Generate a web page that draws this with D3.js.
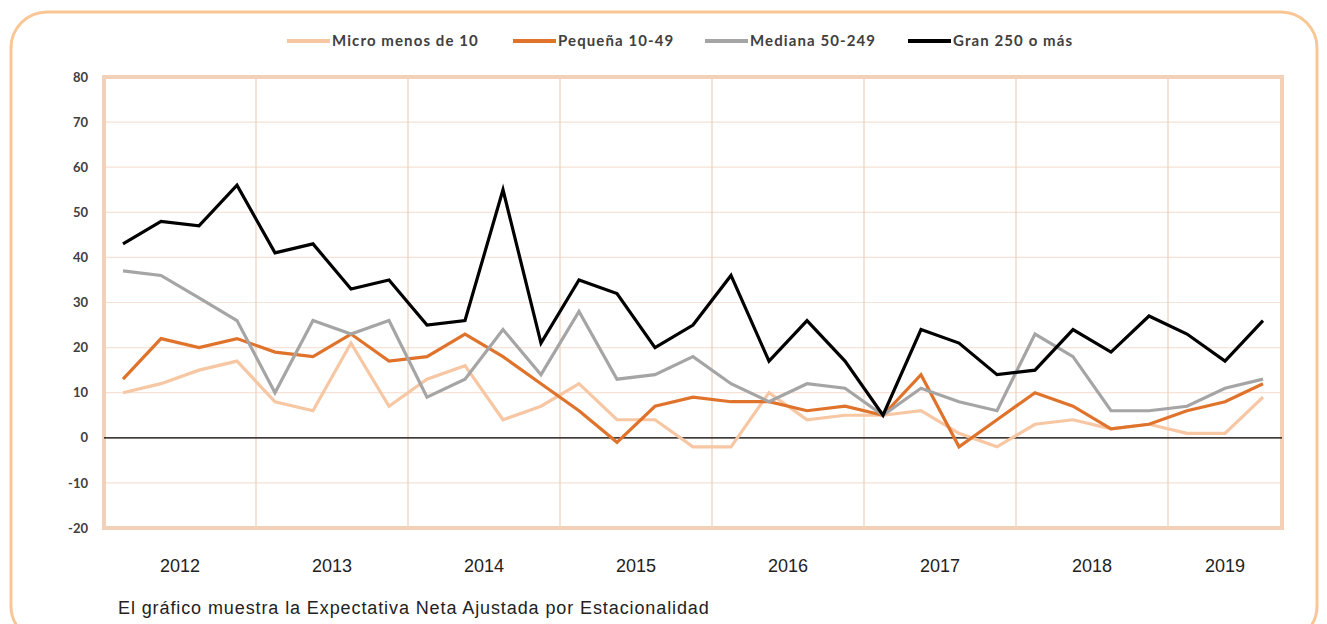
<!DOCTYPE html>
<html>
<head>
<meta charset="utf-8">
<script src="https://cdn.jsdelivr.net/npm/d3@7"></script>
<style>
  body { margin: 0; background: #fff; }
  svg { display: block; }
</style>
</head>
<body>
<div id="chart"></div>
<script>
// años y trimestres (2019 solo tiene 3)
const years = ["2012", "2013", "2014", "2015", "2016", "2017", "2018", "2019"];
const quartersPerYear = [4, 4, 4, 4, 4, 4, 4, 3];

const seriesNames = ["Micro menos de 10", "Pequeña 10-49", "Mediana 50-249", "Gran 250 o más"];

const micro   = [10, 12, 15, 17, 8, 6, 21, 7, 13, 16, 4, 7, 12, 4, 4, -2, -2, 10, 4, 5, 5, 6, 1, -2, 3, 4, 2, 3, 1, 1, 9];
const pequena = [13, 22, 20, 22, 19, 18, 23, 17, 18, 23, 18, 12, 6, -1, 7, 9, 8, 8, 6, 7, 5, 14, -2, 4, 10, 7, 2, 3, 6, 8, 12];
const mediana = [37, 36, 31, 26, 10, 26, 23, 26, 9, 13, 24, 14, 28, 13, 14, 18, 12, 8, 12, 11, 5, 11, 8, 6, 23, 18, 6, 6, 7, 11, 13];
const gran    = [43, 48, 47, 56, 41, 43, 33, 35, 25, 26, 55, 21, 35, 32, 20, 25, 36, 17, 26, 17, 5, 24, 21, 14, 15, 24, 19, 27, 23, 17, 26];

const yTicks = [-20, -10, 0, 10, 20, 30, 40, 50, 60, 70, 80];

const footnote = "El gráfico muestra la Expectativa Neta Ajustada por Estacionalidad";

const width = 1327, height = 624;
const margin = { top: 77, right: 45, bottom: 96, left: 104 };
const colors = ["#f7c6a3", "#e0732c", "#a5a5a5", "#000000"];

// categorias: una por trimestre
const categories = [];
years.forEach((yr, i) => {
  for (let q = 1; q <= quartersPerYear[i]; q++) categories.push(yr + "-T" + q);
});

const allSeries = [micro, pequena, mediana, gran].map((vals, i) => ({
  name: seriesNames[i],
  color: colors[i],
  values: vals.map((v, j) => ({ cat: categories[j], value: v }))
}));

const svg = d3.select("#chart")
  .append("svg")
  .attr("width", width)
  .attr("height", height);

// marco redondeado exterior
svg.append("rect")
  .attr("x", 11).attr("y", 12)
  .attr("width", 1306).attr("height", 630)
  .attr("rx", 36).attr("ry", 36)
  .attr("fill", "none")
  .attr("stroke", "#f9c795")
  .attr("stroke-width", 3);

const x = d3.scaleBand()
  .domain(categories)
  .range([margin.left, width - margin.right])
  .padding(0);

const y = d3.scaleLinear()
  .domain([-20, 80])
  .range([height - margin.bottom, margin.top]);

// rejilla horizontal
svg.append("g")
  .selectAll("line")
  .data(yTicks)
  .join("line")
  .attr("x1", margin.left).attr("x2", width - margin.right)
  .attr("y1", d => y(d)).attr("y2", d => y(d))
  .attr("stroke", "#f6e2d6")
  .attr("stroke-width", 1.2);

// separadores de año
const firstOfYear = [];
let idx = 0;
quartersPerYear.forEach(n => { firstOfYear.push(idx); idx += n; });

svg.append("g")
  .selectAll("line")
  .data(firstOfYear.slice(1))
  .join("line")
  .attr("x1", d => x(categories[d])).attr("x2", d => x(categories[d]))
  .attr("y1", y(80)).attr("y2", y(-20))
  .attr("stroke", "#edcfbb")
  .attr("stroke-width", 1.2);

// borde del area de trazado
svg.append("rect")
  .attr("x", margin.left).attr("y", margin.top)
  .attr("width", width - margin.right - margin.left)
  .attr("height", y(-20) - y(80))
  .attr("fill", "none")
  .attr("stroke", "#f3d0b8")
  .attr("stroke-width", 4);

// eje Y (guion normal en negativos, como el original)
const yAxis = svg.append("g")
  .attr("transform", `translate(${margin.left - 16},0)`)
  .call(d3.axisLeft(y).tickValues(yTicks).tickSize(0).tickPadding(0).tickFormat(d => String(d)));
yAxis.select(".domain").remove();
yAxis.selectAll("text")
  .style("font-family", "Lato, 'Open Sans', sans-serif")
  .style("font-weight", "bold")
  .style("font-size", "13px")
  .attr("fill", "#404040");

// linea del cero
svg.append("line")
  .attr("x1", margin.left).attr("x2", width - margin.right)
  .attr("y1", y(0)).attr("y2", y(0))
  .attr("stroke", "#000")
  .attr("stroke-width", 1.3);

// etiquetas de año, centradas en su grupo de trimestres
svg.append("g")
  .selectAll("text")
  .data(years)
  .join("text")
  .attr("x", (d, i) => {
    const a = x(categories[firstOfYear[i]]);
    const b = x(categories[firstOfYear[i] + quartersPerYear[i] - 1]) + x.bandwidth();
    return (a + b) / 2;
  })
  .attr("y", 572)
  .attr("text-anchor", "middle")
  .style("font-family", "'Liberation Sans', Arial, sans-serif")
  .style("font-size", "18px")
  .attr("fill", "#222")
  .text(d => d);

// lineas
const line = d3.line()
  .x(d => x(d.cat) + x.bandwidth() / 2)
  .y(d => y(d.value));

svg.append("g")
  .selectAll("path")
  .data(allSeries)
  .join("path")
  .attr("d", d => line(d.values))
  .attr("fill", "none")
  .attr("stroke", d => d.color)
  .attr("stroke-width", 3.2)
  .attr("stroke-linejoin", "miter");

// leyenda
const legendX = [287, 513, 705, 908];
const legend = svg.append("g")
  .selectAll("g")
  .data(allSeries)
  .join("g")
  .attr("transform", (d, i) => `translate(${legendX[i]},41)`);

legend.append("line")
  .attr("x1", 0).attr("x2", 43)
  .attr("stroke", d => d.color)
  .attr("stroke-width", 4);

legend.append("text")
  .attr("x", 45)
  .attr("y", 5)
  .style("font-family", "Lato, 'Open Sans', sans-serif")
  .style("font-weight", "bold")
  .style("font-size", "15px")
  .style("letter-spacing", "1.1px")
  .attr("fill", "#404040")
  .text(d => d.name);

// nota al pie
svg.append("text")
  .attr("x", 118)
  .attr("y", 614)
  .style("font-family", "'Liberation Sans', Arial, sans-serif")
  .style("font-size", "18px")
  .style("letter-spacing", "0.9px")
  .attr("fill", "#222")
  .text(footnote);
</script>
</body>
</html>
